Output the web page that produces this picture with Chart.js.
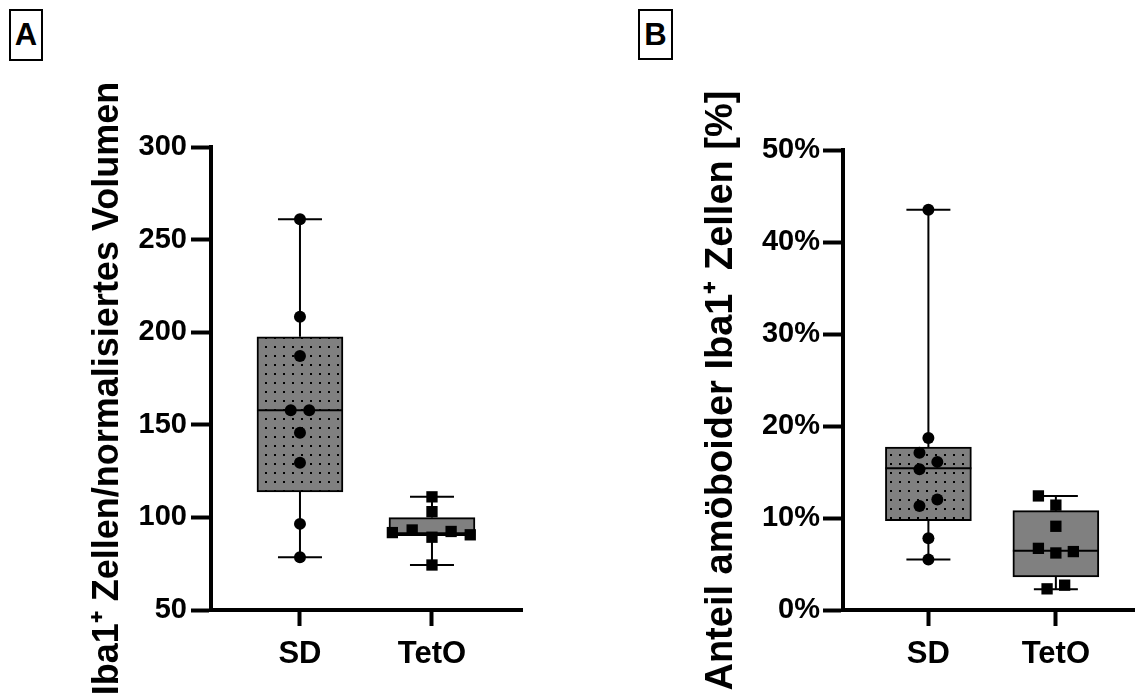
<!DOCTYPE html>
<html>
<head>
<meta charset="utf-8">
<script src="https://cdn.jsdelivr.net/npm/chart.js@4.4.1/dist/chart.umd.min.js"></script>
<style>
    body { margin: 0; background: #fff; width: 1142px; height: 700px; overflow: hidden; position: relative; font-family: "Liberation Sans", Arial, sans-serif; }
    .panel { position: absolute; top: 0; width: 571px; height: 700px; }
    .tag { position: absolute; box-sizing: border-box; border: 2px solid #000; font-weight: bold; font-size: 31px; line-height: 47px; text-align: center; color: #000; }
</style>
</head>
<body>
<div class="tag" style="left:9px;top:9px;width:34px;height:52px;">A</div>
<div class="tag" style="left:638px;top:9px;width:35px;height:51px;">B</div>
<div class="panel" style="left:0;"><canvas id="chartA" width="571" height="700"></canvas></div>
<div class="panel" style="left:571px;"><canvas id="chartB" width="571" height="700"></canvas></div>
<script>
// groups on the x axis
var GROUPS = ['SD', 'TetO'];

// Panel A: Iba1+ cells / normalised volume
var A_SD_POINTS   = [261, 208.3, 187.2, 157.8, 157.8, 145.7, 129.5, 96.5, 78.5];
var A_TETO_POINTS = [111.1, 103.1, 93.2, 91.8, 89.3, 92.4, 90.6, 74.3];
var A_MIN = [78.5, 74.3];
var A_Q1  = [113.8, 90.2];
var A_MED = [157.8, 91.4];
var A_Q3  = [197.5, 99.9];
var A_MAX = [261, 111.1];
var A_TICKS = [50, 100, 150, 200, 250, 300];

// Panel B: share of amoeboid Iba1+ cells (%)
var B_SD_POINTS   = [43.5, 18.7, 17.1, 16.1, 15.3, 12.0, 11.3, 7.8, 5.5];
var B_TETO_POINTS = [12.4, 11.4, 9.1, 6.7, 6.2, 6.35, 2.7, 2.3];
var B_MIN = [5.5, 2.25];
var B_Q1  = [9.7, 3.6];
var B_MED = [15.4, 6.45];
var B_Q3  = [17.7, 10.8];
var B_MAX = [43.5, 12.4];
var B_TICKS = [0, 10, 20, 30, 40, 50];

// horizontal scatter of the dots (x units, 1 unit = distance between groups)
var A_SD_JITTER   = [0, 0, 0, -0.07, 0.07, 0, 0, 0, 0];
var A_TETO_JITTER = [0, 0, -0.15, -0.30, 0, 0.145, 0.29, 0];
var B_SD_JITTER   = [0, 0, -0.07, 0.07, -0.07, 0.07, -0.07, 0, 0];
var B_TETO_JITTER = [-0.137, 0, 0, -0.137, 0, 0.137, 0.069, -0.069];

var FONT = '"Liberation Sans", Arial, sans-serif';

function dotPattern() {
    var c = document.createElement('canvas');
    c.width = 9; c.height = 9;
    var g = c.getContext('2d');
    g.fillStyle = '#808080';
    g.fillRect(0, 0, 9, 9);
    g.fillStyle = '#000';
    g.fillRect(4, 4, 2, 2);
    return g.createPattern(c, 'repeat');
}

function toPoints(groupIndex, values, jitter) {
    return values.map(function (v, i) { return {x: groupIndex + 1 + jitter[i], y: v}; });
}

// whiskers, caps and median line, drawn right after the boxes
var whiskerPlugin = {
    id: 'whiskers',
    afterDatasetDraw: function (chart, args, opts) {
        if (args.index !== 0) return;
        var xs = chart.scales.x, ys = chart.scales.y, ctx = chart.ctx;
        ctx.save();
        ctx.strokeStyle = '#000';
        ctx.lineWidth = 2;
        for (var i = 0; i < opts.min.length; i++) {
            var x = xs.getPixelForValue(i + 1);
            var pMin = ys.getPixelForValue(opts.min[i]);
            var pQ1 = ys.getPixelForValue(opts.q1[i]);
            var pMed = ys.getPixelForValue(opts.med[i]);
            var pQ3 = ys.getPixelForValue(opts.q3[i]);
            var pMax = ys.getPixelForValue(opts.max[i]);
            ctx.beginPath();
            ctx.moveTo(x, pMax); ctx.lineTo(x, pQ3);
            ctx.moveTo(x, pQ1); ctx.lineTo(x, pMin);
            ctx.moveTo(x - 22, pMax); ctx.lineTo(x + 22, pMax);
            ctx.moveTo(x - 22, pMin); ctx.lineTo(x + 22, pMin);
            ctx.moveTo(x - 43, pMed); ctx.lineTo(x + 43, pMed);
            ctx.stroke();
        }
        ctx.restore();
    }
};

function makeChart(id, cfg) {
    var boxes = [];
    for (var i = 0; i < GROUPS.length; i++) {
        boxes.push({x: i + 1, y: [cfg.q1[i], cfg.q3[i]]});
    }
    return new Chart(document.getElementById(id), {
        type: 'bar',
        data: {
            datasets: [{
                type: 'bar',
                order: 2,
                data: boxes,
                backgroundColor: [dotPattern(), '#808080'],
                borderColor: '#000',
                borderWidth: 2,
                borderSkipped: false,
                barThickness: 86
            }, {
                type: 'scatter',
                order: 0,
                data: toPoints(0, cfg.sd, cfg.sdJitter),
                pointStyle: 'circle',
                pointRadius: 6,
                pointBackgroundColor: '#000',
                pointBorderWidth: 0
            }, {
                type: 'scatter',
                order: 0,
                data: toPoints(1, cfg.teto, cfg.tetoJitter),
                pointStyle: 'rect',
                pointRadius: 8,
                pointBackgroundColor: '#000',
                pointBorderWidth: 0
            }]
        },
        options: {
            responsive: false,
            animation: false,
            events: [],
            layout: {padding: {top: cfg.top, right: cfg.right, bottom: 0, left: 0}},
            plugins: {
                legend: {display: false},
                tooltip: {enabled: false},
                whiskers: {min: cfg.min, q1: cfg.q1, med: cfg.med, q3: cfg.q3, max: cfg.max}
            },
            scales: {
                x: {
                    type: 'linear',
                    min: cfg.xMin,
                    max: cfg.xMax,
                    offset: false,
                    afterBuildTicks: function (axis) {
                        axis.ticks = GROUPS.map(function (g, i) { return {value: i + 1}; });
                    },
                    afterFit: function (s) { s.height = 90; },
                    ticks: {
                        autoSkip: false,
                        maxRotation: 0,
                        padding: 10,
                        color: '#000',
                        font: {family: FONT, size: 31, weight: 'bold'},
                        callback: function (v) { return GROUPS[Math.round(v) - 1]; }
                    },
                    grid: {display: true, drawOnChartArea: false, offset: false, tickLength: 16, tickWidth: 4, tickColor: '#000'},
                    border: {display: true, width: 4, color: '#000'}
                },
                y: {
                    type: 'linear',
                    min: cfg.ticks[0],
                    max: cfg.ticks[cfg.ticks.length - 1],
                    beginAtZero: false,
                    afterBuildTicks: function (axis) {
                        axis.ticks = cfg.ticks.map(function (t) { return {value: t}; });
                    },
                    afterFit: function (s) { s.width = cfg.yWidth; },
                    ticks: {
                        padding: cfg.tickPad,
                        color: '#000',
                        font: {family: FONT, size: 29, weight: 'bold'},
                        callback: cfg.tickFmt
                    },
                    grid: {display: true, drawOnChartArea: false, tickLength: 20, tickWidth: 4, tickColor: '#000'},
                    border: {display: true, width: 4, color: '#000'},
                    title: {
                        display: true,
                        text: cfg.title,
                        color: '#000',
                        font: {family: FONT, size: cfg.titleSize, weight: 'bold'},
                        padding: {top: cfg.titlePad, bottom: 0}
                    }
                }
            }
        },
        plugins: [whiskerPlugin]
    });
}

makeChart('chartA', {
    sd: A_SD_POINTS, teto: A_TETO_POINTS, sdJitter: A_SD_JITTER, tetoJitter: A_TETO_JITTER,
    min: A_MIN, q1: A_Q1, med: A_MED, q3: A_Q3, max: A_MAX, ticks: A_TICKS,
    tickFmt: function (v) { return v; },
    title: 'Iba1\u207A Zellen/normalisiertes Volumen  ',
    titleSize: 36,
    top: 147, right: 49, yWidth: 211, tickPad: 4, titlePad: 86,
    xMin: 0.326, xMax: 2.682
});

makeChart('chartB', {
    sd: B_SD_POINTS, teto: B_TETO_POINTS, sdJitter: B_SD_JITTER, tetoJitter: B_TETO_JITTER,
    min: B_MIN, q1: B_Q1, med: B_MED, q3: B_Q3, max: B_MAX, ticks: B_TICKS,
    tickFmt: function (v) { return v + '%'; },
    title: 'Anteil am\u00F6boider Iba1\u207A Zellen [%]  ',
    titleSize: 38,
    top: 150, right: 0, yWidth: 272, tickPad: 3, titlePad: 128,
    xMin: 0.330, xMax: 2.613
});
</script>
</body>
</html>
